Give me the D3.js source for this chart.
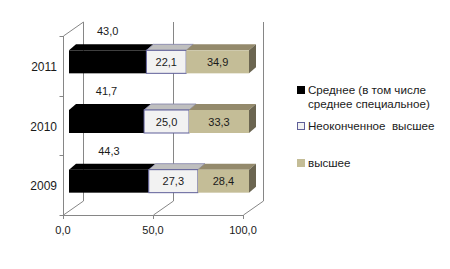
<!DOCTYPE html>
<html><head><meta charset="utf-8">
<script src="https://cdn.jsdelivr.net/npm/d3@7"></script>
<style>body{margin:0;background:#fff}svg{display:block}text{font-family:"Liberation Sans",Arial,sans-serif;fill:#1a1a1a}</style>
</head><body>
<script>
const categories = ["2011", "2010", "2009"];
const seriesNames = ["Среднее (в том числе\nсреднее специальное)", "Неоконченное  высшее", "высшее"];
const secondary = [43.0, 41.7, 44.3];
const incompleteHigher = [22.1, 25.0, 27.3];
const higher = [34.9, 33.3, 28.4];
const xTicks = [0, 50, 100];

const W = 450, H = 269;
const svg = d3.select("body").append("svg").attr("width", W).attr("height", H);

const fmt = v => d3.format(".1f")(v).replace(".", ",");
const x = d3.scaleLinear().domain([0, 100]).range([63, 243]);
const y = d3.scaleBand().domain(categories).range([36, 215]);
const DX = 20, DY = -14;     // wall depth
const BX = 6, BY = -4;       // bar front offset
const bdx = 7, bdy = -6;     // bar depth
const barH = 23;
const grid = "#868686";

// walls / grid
const g = svg.append("g").attr("fill", "none").attr("stroke", grid).attr("stroke-width", 1);
const yTop = 36, yBot = 215;
xTicks.forEach(t => {
  const xx = Math.round(x(t)) + 0.5;
  g.append("line").attr("x1", xx + DX).attr("x2", xx + DX).attr("y1", yTop + DY).attr("y2", yBot + DY);
  g.append("line").attr("x1", xx).attr("x2", xx + DX).attr("y1", yBot).attr("y2", yBot + DY);
  g.append("line").attr("x1", xx).attr("x2", xx).attr("y1", yBot).attr("y2", yBot + 4);
});
const x0 = Math.round(x(0)) + 0.5;
g.append("line").attr("x1", x0).attr("x2", x0 + DX).attr("y1", yTop).attr("y2", yTop + DY);
g.append("line").attr("x1", x0).attr("x2", x0).attr("y1", yTop).attr("y2", yBot);
g.append("line").attr("x1", x0).attr("x2", x(100) + 0.5).attr("y1", yBot + 0.5).attr("y2", yBot + 0.5);
[yTop, ...categories.map(c => y(c) + y.bandwidth())].forEach(v => {
  g.append("line").attr("x1", x0 - 4).attr("x2", x0).attr("y1", Math.round(v) + 0.5).attr("y2", Math.round(v) + 0.5);
});

// x tick labels
xTicks.forEach(t => svg.append("text").attr("x", x(t)).attr("y", 234).attr("text-anchor", "middle")
  .attr("font-size", 11).text(fmt(t)));
// category labels
categories.forEach(c => svg.append("text").attr("x", 57).attr("y", y(c) + y.bandwidth() / 2 + 5)
  .attr("text-anchor", "end").attr("font-size", 12).text(c));

// bars
const styles = [
  {front: "#000000", top: "#000000", side: "#000000", stroke: "none"},
  {front: "#f2f2f2", top: "#bfbfbf", side: "#a6a6a6", stroke: "#5f5f99"},
  {front: "#c4bd97", top: "#948a6c", side: "#6b6550", stroke: "none"}
];
const data = categories.map((c, i) => ({c, vals: [secondary[i], incompleteHigher[i], higher[i]]}));
data.forEach(d => {
  const top = y(d.c) + y.bandwidth() / 2 + BY - barH / 2;
  let cum = 0;
  d.vals.forEach((v, si) => {
    const s = styles[si];
    const xa = x(cum) + BX, xb = x(cum + v) + BX;
    const gg = svg.append("g");
    gg.append("path").attr("d", `M${xa},${top}L${xa + bdx},${top + bdy}L${xb + bdx},${top + bdy}L${xb},${top}Z`)
      .attr("fill", s.top).attr("stroke", s.stroke === "none" ? "none" : "#8080a8").attr("stroke-width", 0.8);
    if (si === d.vals.length - 1) {
      gg.append("path").attr("d", `M${xb},${top}L${xb + bdx},${top + bdy}L${xb + bdx},${top + bdy + barH}L${xb},${top + barH}Z`)
        .attr("fill", s.side);
    }
    gg.append("rect").attr("x", xa).attr("y", top).attr("width", xb - xa).attr("height", barH)
      .attr("fill", s.front).attr("stroke", s.stroke).attr("stroke-width", 1);
    svg.append("text").attr("x", (xa + xb) / 2).attr("y", si === 0 ? top - 15 : top + barH / 2 + 4)
      .attr("text-anchor", "middle").attr("font-size", 11).text(fmt(v));
    cum += v;
  });
});

// legend
const legend = [
  {y: 90, lines: seriesNames[0].split("\n"), fill: "#000000", stroke: "#000000"},
  {y: 126, lines: [seriesNames[1]], fill: "#f2f2f2", stroke: "#5f5f99"},
  {y: 163, lines: [seriesNames[2]], fill: "#c4bd97", stroke: "#c4bd97"}
];
legend.forEach(l => {
  svg.append("rect").attr("x", 297.5).attr("y", l.y - 3.5).attr("width", 7).attr("height", 7)
    .attr("fill", l.fill).attr("stroke", l.stroke);
  l.lines.forEach((t, i) => svg.append("text").attr("x", 308).attr("y", l.y + 4 + i * 14)
    .attr("font-size", 11.6).style("white-space", "pre").text(t));
});
</script>
</body></html>
